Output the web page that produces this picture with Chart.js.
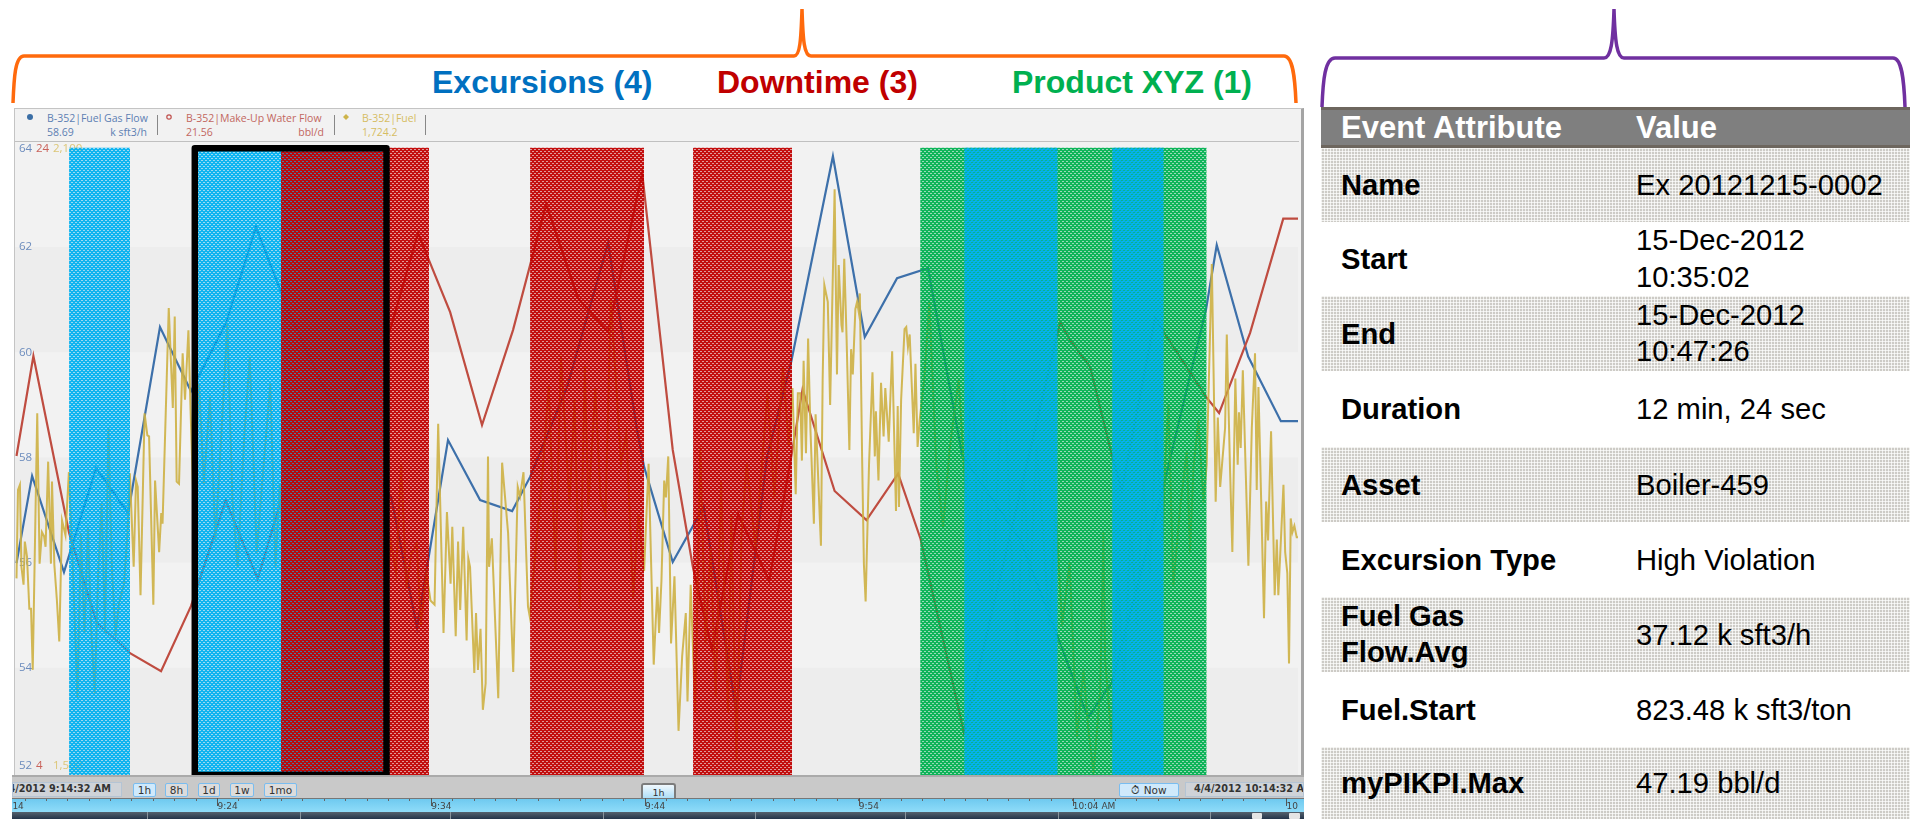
<!DOCTYPE html>
<html>
<head>
<meta charset="utf-8">
<title>Event frames</title>
<script src="https://cdn.jsdelivr.net/npm/chart.js@4"></script>
<style>
  html, body { margin: 0; padding: 0; background: #fff; width: 1910px; height: 819px; overflow: hidden; }
  body { position: relative; font-family: "Liberation Sans", Arial, sans-serif; }
  .abs { position: absolute; }
  .heading { position: absolute; top: 64px; font-size: 32px; font-weight: bold; line-height: 36px; white-space: nowrap; }
  #panel { position: absolute; left: 14px; top: 108px; width: 1286px; height: 667px; background: #f2f2f2; border: 1px solid #c4c4c4; border-right: 3px solid #a4a4a4; border-bottom: none; box-sizing: content-box; }
  #headerLine { position: absolute; left: 15px; top: 141px; width: 1284px; height: 1px; background: #c0c0c0; }
  #mainChart { position: absolute; left: 15px; top: 142px; }
  .lg { position: absolute; font: 10.5px "Open Sans", sans-serif; white-space: nowrap; line-height: 14px; }
  .sep { position: absolute; top: 115px; width: 1px; height: 20px; background: #888; }
  #toolbar { position: absolute; left: 12px; top: 775px; width: 1292px; height: 23px; background: #c9c9c9; border-top: 2px solid #aaa; box-sizing: border-box; }
  .btn { position: absolute; top: 783px; height: 12px; line-height: 12px; background: #dcdcdc; border: 1px solid #79bdf0; border-radius: 2px; font: 10.5px "DejaVu Sans", sans-serif; color: #333; text-align: center; }
  .date { position: absolute; top: 782px; height: 13px; line-height: 13px; background: #cfd3d8; border: 1px solid #b4c4d4; font: bold 9.7px "DejaVu Sans", sans-serif; color: #333; overflow: hidden; white-space: nowrap; }
  .date span { position: absolute; top: 0; }
  #tab { position: absolute; left: 641px; top: 783px; width: 31px; height: 14px; border: 2px solid #7c7c7c; border-bottom: none; border-radius: 3px 3px 0 0; background: linear-gradient(#f0f8fd, #a9dcf6); text-align: center; font: 9.5px "DejaVu Sans", sans-serif; color: #333; line-height: 15px; }
  #strip { position: absolute; left: 12px; top: 798px; width: 1292px; height: 14px; background: linear-gradient(#6cc8ef, #8fdcf9); }
  #timeChart { position: absolute; left: 0; top: 798px; clip-path: inset(0 0 0 12px); }
  #dark { position: absolute; left: 12px; top: 812px; width: 1292px; height: 7px; background: linear-gradient(#55626e, #24344a); }
  .dv { position: absolute; top: 812px; width: 1px; height: 7px; background: #8a949c; }
  .handle { position: absolute; top: 813px; height: 6px; background: #e4e4e4; border-radius: 1px; }
  #thead { position: absolute; left: 1321px; top: 107px; width: 589px; height: 41px; box-sizing: border-box; background: #7f7f7f; border-top: 3px solid #6d665e; border-bottom: 3px solid #6d665e; color: #fff; font-weight: bold; font-size: 31px; }
  #thead span { position: absolute; top: 0; line-height: 35px; }
  .row { position: absolute; left: 1321px; width: 589px; font-size: 29.2px; line-height: 36.7px; color: #000; }
  .row.alt { background-image: linear-gradient(rgba(255,255,255,.7) 1px, transparent 1px), linear-gradient(90deg, rgba(255,255,255,.7) 1px, transparent 1px), linear-gradient(#cdcbc6, #cdcbc6); background-size: 3px 3px; }
  .row .k, .row .v { position: absolute; top: 50%; transform: translateY(-50%); }
  .row .k { left: 20px; font-weight: bold; }
  .row .v { left: 315px; }
</style>
</head>
<body>
<svg class="abs" style="left:0;top:0" width="1910" height="120">
  <path d="M13 103 C14 78 15 56 24 56 L794 56 C800 56 801 40 802 9 C803 40 804 56 811 56 L1284 56 C1293 56 1295 78 1296 103" fill="none" stroke="#ff6a0d" stroke-width="3.5"/>
  <path d="M1322 107 C1323 80 1325 58 1335 58 L1604 58 C1611 58 1613 42 1614 9 C1615 42 1617 58 1624 58 L1893 58 C1902 58 1904 80 1905 107" fill="none" stroke="#7030a0" stroke-width="3.5"/>
</svg>
<div class="heading" style="left:432px;color:#0070c0">Excursions (4)</div>
<div class="heading" style="left:717px;color:#c00000">Downtime (3)</div>
<div class="heading" style="left:1012px;color:#00b050">Product XYZ (1)</div>

<div id="panel"></div>
<div id="headerLine"></div>
<svg class="abs" style="left:24px;top:111px" width="330" height="12">
  <circle cx="6" cy="6" r="3" fill="#3b6ea5"/>
  <circle cx="145" cy="6" r="2.2" fill="none" stroke="#c0504d" stroke-width="1.2"/>
  <path d="M322 3 L325 6 L322 9 L319 6 Z" fill="#cdb44a"/>
</svg>
<div class="lg" style="left:47px;top:111px;color:#5d7fb3">B-352|Fuel Gas Flow</div>
<div class="lg" style="left:47px;top:125px;color:#5d7fb3">58.69</div>
<div class="lg" style="left:97px;width:50px;text-align:right;top:125px;color:#5d7fb3">k sft3/h</div>
<div class="sep" style="left:157px"></div>
<div class="lg" style="left:186px;top:111px;color:#c2675f">B-352|Make-Up Water Flow</div>
<div class="lg" style="left:186px;top:125px;color:#c2675f">21.56</div>
<div class="lg" style="left:274px;width:50px;text-align:right;top:125px;color:#c2675f">bbl/d</div>
<div class="sep" style="left:334px"></div>
<div class="lg" style="left:362px;top:111px;color:#d6bd63">B-352|Fuel</div>
<div class="lg" style="left:362px;top:125px;color:#d6bd63">1,724.2</div>
<div class="sep" style="left:425px"></div>

<canvas id="mainChart" width="1283" height="633"></canvas>

<div id="toolbar"></div>
<div class="date" style="left:12px;width:108px"><span style="right:10px">4/4/2012 9:14:32 AM</span></div>
<div class="btn" style="left:133px;width:21px;background:#cfe9fb">1h</div>
<div class="btn" style="left:165px;width:21px">8h</div>
<div class="btn" style="left:198px;width:20px">1d</div>
<div class="btn" style="left:230px;width:22px">1w</div>
<div class="btn" style="left:264px;width:31px">1mo</div>
<div id="tab">1h</div>
<div class="btn" style="left:1119px;width:58px;background:#cfe9fb">⏱ Now</div>
<div class="date" style="left:1185px;width:117px"><span style="left:8px">4/4/2012 10:14:32 AM</span></div>
<div id="strip"></div>
<canvas id="timeChart" width="1304" height="14"></canvas>
<div id="dark"></div>
<div class="dv" style="left:147px"></div>
<div class="dv" style="left:300px"></div>
<div class="dv" style="left:450px"></div>
<div class="dv" style="left:603px"></div>
<div class="dv" style="left:755px"></div>
<div class="dv" style="left:905px"></div>
<div class="dv" style="left:1058px"></div>
<div class="dv" style="left:1210px"></div>
<div class="handle" style="left:1252px;width:10px"></div>
<div class="handle" style="left:1289px;width:11px"></div>

<div id="thead"><span style="left:20px">Event Attribute</span><span style="left:315px">Value</span></div>
<div id="tbody"></div>

<script>
// minutes after 9:00
const viewStart = 14.53;
const viewEnd = 74.53;

const fuelGasMinutes = [14.60, 15.33, 16.82, 18.32, 19.82, 21.31, 22.76, 24.40, 25.80, 27.30, 28.80, 30.29, 32.12, 33.33, 34.78, 36.28, 37.78, 38.62, 40.35, 42.27, 43.62, 43.95, 45.29, 46.74, 48.25, 49.70, 50.83, 52.78, 54.27, 55.78, 57.23, 58.82, 61.54, 63.31, 64.71, 65.84, 68.22, 70.23, 70.73, 72.20, 73.73, 74.53];
const fuelGasValues = [55.99, 57.65, 55.82, 57.80, 56.94, 60.48, 59.26, 60.56, 62.38, 60.80, 59.47, 58.33, 57.25, 54.76, 58.33, 57.19, 56.98, 57.63, 59.34, 62.08, 58.52, 57.82, 56.01, 57.06, 53.20, 58.01, 59.82, 63.73, 60.29, 61.41, 61.60, 58.05, 56.43, 54.57, 53.05, 53.73, 57.42, 60.82, 62.04, 59.92, 58.69, 58.69];

const waterMinutes = [14.60, 15.39, 17.06, 18.34, 19.91, 21.36, 22.76, 24.38, 25.88, 26.97, 28.80, 30.57, 32.07, 33.38, 33.85, 34.88, 36.37, 37.82, 39.37, 40.86, 42.27, 43.86, 45.29, 46.24, 47.13, 48.35, 49.80, 50.83, 51.36, 52.86, 54.35, 55.83, 56.88, 58.90, 63.41, 63.87, 64.81, 65.82, 66.29, 67.85, 68.22, 70.23, 70.84, 72.29, 73.84, 74.53];
const waterValues = [14.05, 17.22, 11.61, 8.79, 7.80, 7.23, 9.29, 12.65, 10.15, 12.65, 14.55, 16.30, 18.04, 21.12, 20.32, 18.61, 15.03, 18.04, 22.03, 19.05, 17.98, 23.02, 14.24, 10.50, 7.90, 12.21, 10.09, 14.02, 16.16, 12.94, 12.02, 13.49, 11.42, 5.30, 18.29, 17.72, 16.87, 14.09, 12.97, 18.43, 18.01, 15.92, 15.41, 17.95, 21.57, 21.57];

const fuelMinutes = [
  14.60, 14.67, 14.76, 14.83, 14.93, 14.99, 15.09, 15.20, 15.28, 15.36, 15.57, 15.68, 15.79, 15.89, 15.96, 16.08, 16.21, 16.26, 16.37, 16.49, 16.60, 16.73, 16.89, 17.05,
  17.21, 17.45, 17.61, 17.78, 17.94, 18.10, 18.26, 18.42, 18.58, 18.74, 18.90, 19.06, 19.23, 19.39, 19.63, 19.79,
  19.90, 20.08, 20.19, 20.27, 20.40, 20.59, 20.72, 20.80, 21.00, 21.08, 21.27, 21.37, 21.43, 21.72, 21.91, 22.00, 22.09, 22.20, 22.37, 22.48, 22.64, 22.74,
  22.88, 23.14, 23.36, 23.65, 23.90, 24.14, 24.46, 24.70, 24.94, 25.26, 25.51, 25.83, 26.15, 26.47, 26.71, 26.91,
  27.10, 27.40, 27.70, 28.00, 28.30, 28.60, 28.90, 29.20, 29.50, 29.80, 30.10, 30.40, 30.70, 31.00, 31.30, 31.60, 31.90,
  32.11, 32.35, 32.59, 32.83, 33.07, 33.32, 33.51, 33.77,
  33.96, 34.15, 34.32, 34.57, 34.73, 34.90, 34.98, 35.14, 35.25, 35.35, 35.49, 35.65, 35.73, 35.81, 36.01, 36.09, 36.18, 36.30, 36.41, 36.54, 36.65, 36.70, 36.83, 37.02, 37.13, 37.31, 37.59, 37.83, 38.04, 38.15, 38.31, 38.52, 38.60,
  39.17, 39.49, 39.81, 40.06, 40.46, 40.70, 40.94, 41.18, 41.34, 41.67, 41.91, 42.15, 42.39, 42.63, 42.87, 43.12, 43.44, 43.68, 43.95,
  44.16, 44.40, 44.57, 44.65, 44.76, 44.89, 44.97, 45.08, 45.21, 45.37, 45.56, 45.73, 45.90, 45.98, 46.13,
  46.34, 46.58, 46.82, 47.06, 47.30, 47.55, 47.87, 48.03, 48.27, 48.51, 48.75, 49.16, 49.40, 49.72, 50.04, 50.44, 50.72,
  50.89, 51.04, 51.14, 51.25, 51.33, 51.41, 51.52, 51.62, 51.73, 51.89, 51.97, 52.22, 52.30, 52.38, 52.54, 52.65, 52.86, 52.97, 53.05, 53.18, 53.23, 53.31, 53.42, 53.55, 53.63, 53.71, 53.83, 53.91, 53.99, 54.04, 54.15, 54.23, 54.31, 54.47, 54.63, 54.74, 54.79, 54.91, 55.03, 55.15, 55.23, 55.39, 55.55, 55.73, 55.81, 55.87, 55.97, 56.13, 56.21, 56.29, 56.37, 56.56, 56.64, 56.74, 56.84,
  57.05, 57.29, 57.61, 57.93, 58.25, 58.66,
  59.00, 59.30, 59.60, 59.90, 60.20, 60.50, 60.80, 61.10, 61.40, 61.70, 62.00, 62.30, 62.60, 62.90,
  63.20, 63.50, 63.85, 64.19, 64.50, 64.73, 64.97, 65.28, 65.43, 65.51, 65.82,
  66.10, 66.40, 66.70, 67.00, 67.30, 67.60, 67.90, 68.20,
  68.31, 68.47, 68.70, 69.01, 69.33, 69.48, 69.64, 69.87, 70.11,
  70.26, 70.50, 70.68, 70.78, 70.89, 71.12, 71.20, 71.35, 71.46, 71.60, 71.71, 71.77, 71.85, 71.95, 72.09, 72.21, 72.37, 72.52, 72.60, 72.68, 72.94, 73.04, 73.13, 73.27, 73.44, 73.54, 73.61, 73.85, 73.93, 74.03, 74.11, 74.19, 74.27, 74.36, 74.47, 74.53
];
const fuelValues = [
  1685, 1769, 1774, 1696, 1679, 1720, 1706, 1656, 1656, 1598, 1842, 1699, 1729, 1725, 1715, 1796, 1699, 1777, 1698, 1664, 1625, 1740, 1726, 1786,
  1709, 1572, 1728, 1633, 1734, 1633, 1576, 1690, 1756, 1633, 1828, 1696, 1630, 1661, 1680, 1728,
  1785, 1696, 1778, 1772, 1669, 1842, 1821, 1820, 1660, 1778, 1710, 1747, 1737, 1942, 1847, 1934, 1777, 1775, 1899, 1855, 1921, 1845,
  1753, 1870, 1775, 1858, 1721, 1807, 1927, 1759, 1696, 1823, 1896, 1709, 1791, 1870, 1696, 1775,
  1700, 1840, 1760, 1680, 1810, 1730, 1650, 1780, 1860, 1700, 1640, 1760, 1820, 1690, 1610, 1740, 1670,
  1720, 1690, 1794, 1676, 1709, 1718, 1640, 1690,
  1664, 1660, 1832, 1633, 1748, 1680, 1734, 1630, 1720, 1655, 1734, 1626, 1704, 1696, 1595, 1652, 1598, 1637, 1560, 1585, 1801, 1696, 1723, 1626, 1571, 1795, 1728, 1596, 1772, 1763, 1786, 1658, 1649,
  1778, 1868, 1692, 1897, 1756, 1855, 1656, 1887, 1753, 1865, 1762, 1746, 1951, 1874, 1794, 1823, 1666, 1746, 1692,
  1794, 1603, 1677, 1633, 1682, 1778, 1762, 1801, 1623, 1687, 1540, 1611, 1652, 1568, 1679,
  1557, 1810, 1623, 1714, 1572, 1778, 1557, 1746, 1512, 1730, 1794, 1714, 1778, 1861, 1762, 1887, 1810,
  1866, 1765, 1861, 1861, 1797, 1892, 1804, 1913, 1826, 1737, 1841, 1716, 1874, 1964, 1948, 1850, 2055, 1879, 1983, 1926, 1919, 1989, 1913, 1807, 1903, 1879, 1941, 1948, 1938, 1956, 1794, 1698, 1663, 1794, 1881, 1801, 1844, 1778, 1871, 1820, 1866, 1815, 1901, 1749, 1849, 1753, 1855, 1922, 1924, 1905, 1917, 1823, 1889, 1810, 1836,
  1874, 1948, 1794, 1733, 1810, 1874,
  1760, 1890, 1700, 1820, 1650, 1790, 1870, 1720, 1620, 1780, 1680, 1810, 1730, 1640,
  1750, 1640, 1700, 1534, 1598, 1540, 1500, 1579, 1729, 1607, 1531,
  1690, 1580, 1740, 1640, 1780, 1690, 1830, 1720,
  1790, 1851, 1677, 1751, 1806, 1709, 1790, 1835, 1758,
  1793, 1984, 1758, 1838, 1772, 1828, 1917, 1790, 1710, 1875, 1793, 1843, 1809, 1883, 1783, 1697, 1828, 1899, 1769, 1867, 1647, 1758, 1721, 1825, 1669, 1722, 1669, 1774, 1710, 1690, 1604, 1742, 1729, 1735, 1724, 1724
];

// event frames, start and end minute of each
const productStarts = [56.86];
const productEnds = [70.26];
const excursionStarts = [17.06, 23.09, 58.92, 65.84];
const excursionEnds = [19.91, 31.75, 63.29, 68.25];
const downtimeStarts = [26.97, 38.62, 46.24];
const downtimeEnds = [33.89, 43.95, 50.87];
const bandTop = 63.89;
const selectedStart = 23.09;
const selectedEnd = 31.75;

const fuelGasTicks = [52, 54, 56, 58, 60, 62, 64];
const waterTicks = [4, 24];
const fuelTicks = [1500, 2100];
const stripeTops = [62, 58, 54];
const stripeBottoms = [60, 56, 51.96];

const rowLabels = ["Name", "Start", "End", "Duration", "Asset", "Excursion Type", "Fuel Gas<br>Flow.Avg", "Fuel.Start", "myPIKPI.Max"];
const rowValues = ["Ex 20121215-0002", "15-Dec-2012<br>10:35:02", "15-Dec-2012<br>10:47:26", "12 min, 24 sec", "Boiler-459", "High Violation", "37.12 k sft3/h", "823.48 k sft3/ton", "47.19 bbl/d"];
const rowEdges = [148, 222, 296, 371, 447, 522, 597, 672, 747, 819];

const timeLabelMinutes = [14, 24, 34, 44, 54, 64, 74];
const timeLabels = ["9:14", "9:24", "9:34", "9:44", "9:54", "10:04 AM", "10"];

rowLabels.forEach((label, i) => {
  const row = document.createElement("div");
  row.className = i % 2 === 0 ? "row alt" : "row";
  row.style.top = rowEdges[i] + "px";
  row.style.height = rowEdges[i + 1] - rowEdges[i] + "px";
  row.innerHTML = '<span class="k">' + label + '</span><span class="v">' + rowValues[i] + "</span>";
  document.getElementById("tbody").appendChild(row);
});

// dithered fill, the holes let the lines and lower bands show through
function makePattern(r, g, b, shift) {
  const tile = document.createElement("canvas");
  tile.width = 4;
  tile.height = 4;
  const t = tile.getContext("2d");
  t.fillStyle = "rgba(" + r + "," + g + "," + b + ",0.94)";
  t.fillRect(0, 0, 4, 4);
  [[0, 0], [1, 0], [2, 2], [3, 2]].forEach(([x, y]) => {
    const px = (x + shift) % 4;
    const py = (y + shift) % 4;
    t.clearRect(px, py, 1, 1);
    t.fillStyle = "rgba(" + r + "," + g + "," + b + ",0.35)";
    t.fillRect(px, py, 1, 1);
  });
  return t.createPattern(tile, "repeat");
}

function points(minutes, values) {
  return minutes.map((m, i) => ({ x: m, y: values[i] }));
}

function bandDatasets(starts, ends, pattern, order) {
  return starts.map((s, i) => ({
    data: [{ x: s, y: bandTop }, { x: ends[i], y: bandTop }],
    yAxisID: "y",
    borderWidth: 0,
    pointRadius: 0,
    backgroundColor: pattern,
    fill: "start",
    order: order,
  }));
}

function lineDataset(minutes, values, axis, color, width) {
  return {
    data: points(minutes, values),
    yAxisID: axis,
    borderColor: color,
    borderWidth: width,
    pointRadius: 0,
    tension: 0,
    fill: false,
    order: 10,
  };
}

function sideAxis(min, max, ticks, color, padding, format) {
  return {
    position: "left",
    min: min,
    max: max,
    afterBuildTicks: (scale) => {
      scale.ticks = ticks.map((v) => ({ value: v }));
    },
    afterFit: (scale) => {
      scale.width = 0;
      scale.paddingTop = 0;
      scale.paddingBottom = 0;
    },
    grid: { display: false, drawTicks: false },
    border: { display: false },
    ticks: {
      mirror: true,
      padding: padding,
      color: color,
      autoSkip: false,
      font: { family: "'Open Sans'", size: 11.5 },
      callback: (value) => {
        const text = format ? format(value) : String(value);
        if (value === ticks[ticks.length - 1]) return ["", text];
        if (value === ticks[0]) return [text, ""];
        return text;
      },
    },
  };
}

// shaded rows behind everything
const stripePlugin = {
  id: "stripes",
  beforeDraw(chart) {
    const { ctx, chartArea, scales } = chart;
    ctx.save();
    ctx.fillStyle = "#ededed";
    stripeTops.forEach((top, i) => {
      const y0 = scales.y.getPixelForValue(top);
      const y1 = scales.y.getPixelForValue(stripeBottoms[i]);
      ctx.fillRect(chartArea.left, y0, chartArea.width, y1 - y0);
    });
    ctx.restore();
  },
};

// thick box round the selected event
const selectionPlugin = {
  id: "selection",
  afterDatasetsDraw(chart) {
    const { ctx, scales } = chart;
    const left = scales.x.getPixelForValue(selectedStart);
    const right = scales.x.getPixelForValue(selectedEnd);
    const top = scales.y.getPixelForValue(bandTop);
    const bottom = chart.chartArea.bottom;
    ctx.save();
    ctx.strokeStyle = "#000";
    ctx.lineWidth = 6.5;
    ctx.lineJoin = "round";
    ctx.strokeRect(left - 3.25, top + 0.5, right - left + 6.5, bottom - top - 0.5);
    ctx.restore();
  },
};

const lightBlue = makePattern(0, 176, 240, 0);
const darkRed = makePattern(192, 0, 0, 1);
const green = makePattern(0, 176, 80, 1);

new Chart(document.getElementById("mainChart"), {
  type: "line",
  data: {
    datasets: [
      lineDataset(fuelMinutes, fuelValues, "y3", "rgba(205,176,66,0.9)", 2),
      lineDataset(waterMinutes, waterValues, "y2", "#bf4c40", 2.2),
      lineDataset(fuelGasMinutes, fuelGasValues, "y", "#3d70aa", 2.2),
      ...bandDatasets(productStarts, productEnds, green, 3),
      ...bandDatasets(excursionStarts, excursionEnds, lightBlue, 2),
      ...bandDatasets(downtimeStarts, downtimeEnds, darkRed, 1),
    ],
  },
  options: {
    responsive: false,
    devicePixelRatio: 1,
    animation: false,
    layout: { padding: 0 },
    plugins: { legend: { display: false }, tooltip: { enabled: false } },
    scales: {
      x: { type: "linear", display: false, min: viewStart, max: viewEnd },
      y: sideAxis(51.96, 64, fuelGasTicks, "#6c8cbd", 4),
      y2: sideAxis(3.94, 24, waterTicks, "#c9625a", 21),
      y3: sideAxis(1498, 2100, fuelTicks, "#dcc677", 38, (v) => v.toLocaleString("en-US")),
    },
  },
  plugins: [stripePlugin, selectionPlugin],
});

// taller marks on the ten minute ticks
const longTickPlugin = {
  id: "longTicks",
  afterDraw(chart) {
    const { ctx, scales } = chart;
    ctx.save();
    ctx.strokeStyle = "#555";
    ctx.lineWidth = 1;
    timeLabelMinutes.forEach((m) => {
      const x = Math.round(scales.x.getPixelForValue(m)) + 0.5;
      ctx.beginPath();
      ctx.moveTo(x, 0);
      ctx.lineTo(x, 8);
      ctx.stroke();
    });
    ctx.restore();
  },
};

new Chart(document.getElementById("timeChart"), {
  type: "line",
  data: { datasets: [] },
  options: {
    responsive: false,
    devicePixelRatio: 1,
    animation: false,
    layout: { padding: 0 },
    plugins: { legend: { display: false }, tooltip: { enabled: false } },
    scales: {
      y: { display: false },
      x: {
        type: "linear",
        position: "bottom",
        min: 13.83,
        max: 74.82,
        afterFit: (scale) => {
          scale.height = 14;
          scale.paddingLeft = 0;
          scale.paddingRight = 0;
        },
        grid: { drawOnChartArea: false, tickLength: 3, tickColor: "#666", tickWidth: 1 },
        border: { color: "#777", width: 2 },
        ticks: {
          stepSize: 1,
          includeBounds: false,
          autoSkip: false,
          maxRotation: 0,
          align: "start",
          padding: 0,
          color: "#444",
          font: { family: "'DejaVu Sans'", size: 9 },
          callback: (value) => {
            const i = timeLabelMinutes.indexOf(value);
            return i < 0 ? "" : timeLabels[i];
          },
        },
      },
    },
  },
  plugins: [longTickPlugin],
});
</script>
</body>
</html>
